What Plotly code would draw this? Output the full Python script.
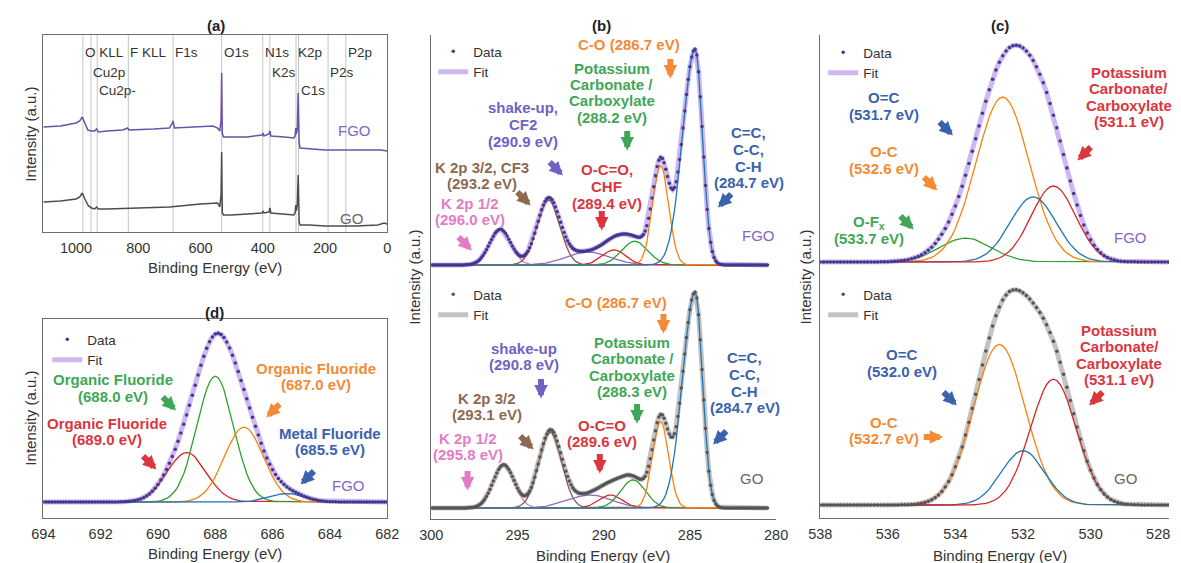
import numpy as np
import plotly.graph_objects as go

W, H = 1181, 563
FONT = "Liberation Sans, Arial, sans-serif"

# ---------------- (a) survey spectra ----------------
survey_be_fgo = [1105, 1050, 1000, 988, 980, 976, 970, 962, 950, 940, 934, 928, 900, 850, 834, 830,
                 750, 700, 692, 688, 684, 620, 560, 545, 538, 534, 532, 530, 526, 500, 450, 402,
                 399, 396, 380, 377, 374, 330, 300, 296, 294, 292, 289, 286, 285, 283, 280, 250,
                 200, 100, 20, 0]
survey_int_fgo = [105, 106, 109, 111, 115, 112, 107, 102, 101, 101, 103, 100, 101, 102, 104, 102,
                  103, 104, 108, 111, 104, 105, 106, 104, 101, 112, 159, 99, 95, 95, 95, 97,
                  99, 96, 98, 101, 96, 95, 94, 96, 104, 98, 102, 139, 122, 89, 84, 83,
                  82, 82, 82, 81]
survey_be_go = [1105, 1050, 1000, 988, 980, 976, 970, 960, 950, 940, 934, 928, 900, 800, 700, 600,
                545, 538, 534, 532, 530, 526, 500, 450, 402, 399, 396, 380, 377, 374, 330, 300,
                296, 294, 292, 289, 286, 285, 283, 280, 250, 200, 100, 30, 10, 0]
survey_int_go = [30, 31, 33, 35, 39, 36, 32, 26, 24, 23, 25, 23, 23, 24, 25, 28,
                 29, 25, 37, 80, 19, 17, 17, 18, 19, 21, 19, 20, 24, 19, 18, 17,
                 19, 27, 21, 27, 57, 42, 10, 7, 7, 6, 6, 7, 9, 8]
survey_lines_be = [978, 952, 932, 832, 688, 532, 400, 377, 293, 285, 190, 133]
survey_labels = ["O KLL", "Cu2p", "Cu2p-", "F KLL", "F1s", "O1s", "N1s", "K2s", "K2p", "C1s", "P2s", "P2p"]
survey_label_row = [0, 1, 2, 0, 0, 0, 0, 1, 0, 2, 1, 0]

# ---------------- (b) C1s ----------------
# order: K 2p 1/2, K 2p 3/2, shake-up, O-C=O, carbonate/carboxylate, C-O, C=C
c1s_colors = ["#e377c2", "#8c564b", "#9467bd", "#d62728", "#2ca02c", "#ff7f0e", "#1f77b4"]
c1s_fgo_center = [296.0, 293.2, 290.9, 289.4, 288.2, 286.7, 284.7]
c1s_fgo_height = [0.165, 0.30, 0.06, 0.07, 0.11, 0.46, 1.0]
c1s_fgo_fwhm = [1.45, 1.55, 3.0, 1.6, 1.8, 1.1, 1.0]
c1s_fgo_asym = [1.0, 1.0, 1.0, 1.0, 1.0, 1.0, 1.7]
c1s_go_center = [295.8, 293.1, 290.8, 289.6, 288.3, 286.7, 284.7]
c1s_go_height = [0.20, 0.35, 0.06, 0.06, 0.13, 0.40, 1.0]
c1s_go_fwhm = [1.45, 1.55, 3.0, 1.6, 1.7, 1.1, 1.0]
c1s_go_asym = [1.0, 1.0, 1.0, 1.0, 1.0, 1.0, 1.7]
c1s_fgo_offset = 1.125

# ---------------- (c) O1s ----------------
# order: O-Fx, O-C, O=C, carbonate/carboxylate
o1s_fgo_colors = ["#2ca02c", "#ff7f0e", "#1f77b4", "#d62728"]
o1s_fgo_center = [533.7, 532.6, 531.7, 531.1]
o1s_fgo_height = [0.11, 0.76, 0.30, 0.35]
o1s_fgo_fwhm = [1.8, 1.85, 1.6, 1.55]
o1s_fgo_asym = [1.0, 1.0, 1.0, 1.0]
o1s_go_colors = ["#ff7f0e", "#1f77b4", "#d62728"]
o1s_go_center = [532.7, 532.0, 531.1]
o1s_go_height = [0.74, 0.25, 0.58]
o1s_go_fwhm = [1.8, 1.5, 1.6]
o1s_go_asym = [1.0, 1.0, 1.0]
o1s_fgo_offset = 1.12

# ---------------- (d) F1s ----------------
# order: 689.0, 688.0, 687.0 organic fluoride, 685.5 metal fluoride
f1s_colors = ["#d62728", "#2ca02c", "#ff7f0e", "#1f77b4"]
f1s_center = [689.0, 688.0, 687.0, 685.5]
f1s_height = [0.29, 0.74, 0.44, 0.05]
f1s_fwhm = [1.6, 1.5, 1.6, 1.4]
f1s_asym = [1.0, 1.0, 1.0, 1.0]


def peak(x, c, h, w, a):
    # split Gaussian: width on the high binding-energy side is scaled by a
    wid = np.where(x > c, w * a, w)
    return h * np.exp(-4 * np.log(2) * (x - c) ** 2 / wid ** 2)


fig = go.Figure()
annotations = []
shapes = []


def P(xpx, ypx):
    return xpx / W, 1 - ypx / H


def text(s, cx, cy, color="#333", size=15, bold=False, xanchor="center", angle=0):
    x, y = P(cx, cy)
    annotations.append(dict(x=x, y=y, xref="paper", yref="paper",
                            text=f"<b>{s}</b>" if bold else s, showarrow=False,
                            font=dict(size=size, color=color, family=FONT),
                            xanchor=xanchor, yanchor="middle", textangle=angle))


def label(lines, cx, cy, color, size=15, spacing=16.5):
    for i, t in enumerate(lines):
        text(t, cx, cy + i * spacing, color=color, size=size, bold=True)


DIRS = {"down": (0, 1), "dr": (0.707, 0.707), "dl": (-0.707, 0.707), "right": (1, 0)}


def arrow(cx, cy, d, color, length=21):
    ux, uy = DIRS[d]
    x, y = P(cx + ux * length / 2, cy + uy * length / 2)
    annotations.append(dict(x=x, y=y, xref="paper", yref="paper", text="", showarrow=True,
                            ax=-ux * length, ay=-uy * length, axref="pixel", ayref="pixel",
                            arrowhead=2, arrowsize=0.45, arrowwidth=6, arrowcolor=color))


def spectrum(xs, centers, heights, widths, asyms, colors, offset, xa, ya,
             data_color, fit_color, legend):
    comps = [peak(xs, c, h, w, a) for c, h, w, a in zip(centers, heights, widths, asyms)]
    total = offset + sum(comps)
    fig.add_trace(go.Scatter(x=xs, y=total, mode="lines", name="Fit", xaxis=xa, yaxis=ya,
                             line=dict(color=fit_color, width=5), legend=legend, legendrank=2))
    for comp, col in zip(comps, colors):
        fig.add_trace(go.Scatter(x=xs, y=offset + comp, mode="lines", xaxis=xa, yaxis=ya,
                                 showlegend=False, line=dict(color=col, width=1.3)))
    fig.add_trace(go.Scatter(x=xs, y=total, mode="markers", name="Data", xaxis=xa, yaxis=ya,
                             marker=dict(color=data_color, size=3.5), legend=legend, legendrank=1))


FGO_DATA, FGO_FIT = "#43388f", "rgba(190,160,235,0.75)"
GO_DATA, GO_FIT = "#555555", "rgba(175,175,175,0.75)"

# (a) survey
fig.add_trace(go.Scatter(x=survey_be_fgo, y=survey_int_fgo, mode="lines", xaxis="x", yaxis="y",
                         showlegend=False, line=dict(color="#6a52a8", width=1.5)))
fig.add_trace(go.Scatter(x=survey_be_go, y=survey_int_go, mode="lines", xaxis="x", yaxis="y",
                         showlegend=False, line=dict(color="#4d4d4d", width=1.5)))
row_y = [52, 72, 90]
for be, lab, row in zip(survey_lines_be, survey_labels, survey_label_row):
    shapes.append(dict(type="line", xref="x", yref="y domain", x0=be, x1=be, y0=0, y1=1,
                       line=dict(color="#c4c4c4", width=1), layer="below"))
    annotations.append(dict(x=be, y=1 - row_y[row] / H, xref="x", yref="paper", text=lab,
                            showarrow=False, xanchor="left", yanchor="middle", xshift=0,
                            font=dict(size=13.5, color="#333", family=FONT)))

# (d) F1s
xd = np.arange(682.0, 694.01, 0.1)
spectrum(xd, f1s_center, f1s_height, f1s_fwhm, f1s_asym, f1s_colors, 0.0, "x2", "y2",
         FGO_DATA, FGO_FIT, "legend5")

# (b) C1s
xb = np.arange(280.5, 300.01, 0.1)
spectrum(xb, c1s_go_center, c1s_go_height, c1s_go_fwhm, c1s_go_asym, c1s_colors, 0.0, "x3", "y3",
         GO_DATA, GO_FIT, "legend2")
spectrum(xb, c1s_fgo_center, c1s_fgo_height, c1s_fgo_fwhm, c1s_fgo_asym, c1s_colors,
         c1s_fgo_offset, "x3", "y3", FGO_DATA, FGO_FIT, "legend")

# (c) O1s
xc = np.arange(527.7, 538.01, 0.1)
spectrum(xc, o1s_go_center, o1s_go_height, o1s_go_fwhm, o1s_go_asym, o1s_go_colors, 0.0, "x4", "y4",
         GO_DATA, GO_FIT, "legend4")
spectrum(xc, o1s_fgo_center, o1s_fgo_height, o1s_fgo_fwhm, o1s_fgo_asym, o1s_fgo_colors,
         o1s_fgo_offset, "x4", "y4", FGO_DATA, FGO_FIT, "legend3")

# ---- titles and axis titles
for s, cx, cy in [("(a)", 208, 25), ("(b)", 602, 25), ("(c)", 1008, 25), ("(d)", 207, 312)]:
    text(s, cx, cy, color="#222", size=15, bold=True)
for cx, cy in [(207, 267), (207, 553), (603, 555), (1008, 555)]:
    text("Binding Energy (eV)", cx, cy, color="#333", size=15)
for cx, cy in [(18, 134), (18, 418), (411, 277), (810, 277)]:
    text("Intensity (a.u.)", cx, cy, color="#333", size=15, angle=-90)

PURPLE, GRAY = "#8466c2", "#666666"
text("FGO", 350, 130, PURPLE, 15)
text("GO", 347, 218, GRAY, 15)
text("FGO", 762, 235, PURPLE, 15)
text("GO", 755, 478, GRAY, 15)
text("FGO", 1142, 237, PURPLE, 15)
text("GO", 1137, 478, GRAY, 15)
text("FGO", 343, 485, PURPLE, 15)

C_PINK, C_BROWN, C_PURPLE = "#e27cc6", "#8c6a52", "#6f62c4"
C_RED, C_GREEN, C_ORANGE, C_BLUE = "#d9363e", "#3fa757", "#f28a36", "#3a62ad"

# (b) FGO labels
label(["C-O (286.7 eV)"], 630, 45, C_ORANGE)
arrow(672, 68, "down", C_ORANGE)
label(["Potassium", "Carbonate /", "Carboxylate", "(288.2 eV)"], 612, 68, C_GREEN)
arrow(628, 140, "down", C_GREEN)
label(["shake-up,", "CF2", "(290.9 eV)"], 522, 108, C_PURPLE)
arrow(555, 168, "dr", C_PURPLE)
label(["K 2p 3/2, CF3", "(293.2 eV)"], 480, 167, C_BROWN)
arrow(522, 198, "dr", C_BROWN)
label(["K 2p 1/2", "(296.0 eV)"], 468, 203, C_PINK)
arrow(462, 243, "dr", C_PINK)
label(["O-C=O,", "CHF", "(289.4 eV)"], 607, 170, C_RED)
arrow(602, 220, "down", C_RED)
label(["C=C,", "C-C,", "C-H", "(284.7 eV)"], 752, 133, C_BLUE)
arrow(728, 200, "dl", C_BLUE)

# (b) GO labels
label(["C-O (286.7 eV)"], 617, 302, C_ORANGE)
arrow(665, 323, "down", C_ORANGE)
label(["Potassium", "Carbonate /", "Carboxylate", "(288.3 eV)"], 633, 342, C_GREEN)
arrow(638, 413, "down", C_GREEN)
label(["shake-up", "(290.8 eV)"], 523, 348, C_PURPLE)
arrow(540, 388, "down", C_PURPLE)
label(["K 2p 3/2", "(293.1 eV)"], 485, 398, C_BROWN)
arrow(525, 442, "dr", C_BROWN)
label(["K 2p 1/2", "(295.8 eV)"], 465, 438, C_PINK)
arrow(465, 480, "down", C_PINK)
label(["O-C=O", "(289.6 eV)"], 602, 425, C_RED)
arrow(600, 463, "down", C_RED)
label(["C=C,", "C-C,", "C-H", "(284.7 eV)"], 748, 358, C_BLUE)
arrow(723, 437, "dl", C_BLUE)

# (c) FGO labels
label(["O=C", "(531.7 eV)"], 890, 98, C_BLUE)
arrow(953, 128, "dr", C_BLUE)
label(["O-C", "(532.6 eV)"], 890, 152, C_ORANGE)
arrow(937, 183, "dr", C_ORANGE)
label(["O-F<sub>x</sub>", "(533.7 eV)"], 875, 222, C_GREEN)
arrow(913, 222, "dr", C_GREEN)
label(["Potassium", "Carbonate/", "Carboxylate", "(531.1 eV)"], 1140, 72, C_RED)
arrow(1095, 153, "dl", C_RED)

# (c) GO labels
label(["O=C", "(532.0 eV)"], 908, 355, C_BLUE)
arrow(957, 398, "dr", C_BLUE)
label(["O-C", "(532.7 eV)"], 890, 422, C_ORANGE)
arrow(940, 437, "right", C_ORANGE)
label(["Potassium", "Carbonate/", "Carboxylate", "(531.1 eV)"], 1130, 330, C_RED)
arrow(1107, 398, "dl", C_RED)

# (d) labels
label(["Organic Fluoride", "(688.0 eV)"], 103, 380, C_GREEN)
arrow(160, 403, "dr", C_GREEN)
label(["Organic Fluoride", "(689.0 eV)"], 97, 423, C_RED)
arrow(140, 462, "dr", C_RED)
label(["Organic Fluoride", "(687.0 eV)"], 310, 368, C_ORANGE)
arrow(267, 410, "dl", C_ORANGE)
label(["Metal Fluoride", "(685.5 eV)"], 325, 433, C_BLUE)
arrow(302, 477, "dl", C_BLUE)

# ---- axes
AX = dict(showgrid=False, zeroline=False, linecolor="#6e6e6e", linewidth=1.2, ticks="outside",
          ticklen=2, tickcolor="rgba(0,0,0,0)", tickfont=dict(size=14.5, color="#333", family=FONT))
AY = dict(showgrid=False, zeroline=False, linecolor="#6e6e6e", linewidth=1.2, showticklabels=False,
          ticks="")


def legend_box(xpx, ypx):
    x, y = P(xpx, ypx)
    return dict(x=x, y=y, xanchor="left", yanchor="top", bgcolor="rgba(0,0,0,0)",
                font=dict(size=13.5, color="#333", family=FONT), tracegroupgap=0,
                itemwidth=30, borderwidth=0)


fig.update_layout(
    width=W, height=H, margin=dict(l=0, r=0, t=0, b=0),
    paper_bgcolor="white", plot_bgcolor="white",
    font=dict(family=FONT, color="#333"),
    xaxis=dict(AX, domain=[32 / W, 383 / W], range=[1105, 0], anchor="y",
               tickvals=[1000, 800, 600, 400, 200, 0], showline=True, mirror=True),
    yaxis=dict(AY, domain=[1 - 232 / H, 1 - 35 / H], range=[0, 197], anchor="x",
               showline=True, mirror=True),
    xaxis2=dict(AX, domain=[32 / W, 383 / W], range=[694, 682], anchor="y2",
                tickvals=[694, 692, 690, 688, 686, 684, 682], showline=True, mirror=True),
    yaxis2=dict(AY, domain=[1 - 518 / H, 1 - 319 / H], range=[-0.094, 1.076], anchor="x2",
                showline=True, mirror=True),
    xaxis3=dict(AX, domain=[428 / W, 780 / W], range=[300, 280], anchor="y3",
                tickvals=[300, 295, 290, 285, 280], showline=True),
    yaxis3=dict(AY, domain=[1 - 519 / H, 1 - 35 / H], range=[-0.051, 2.19], anchor="x3",
                showline=True),
    xaxis4=dict(AX, domain=[825 / W, 1.0], range=[538, 527.68], anchor="y4",
                tickvals=[538, 536, 534, 532, 530, 528], showline=True),
    yaxis4=dict(AY, domain=[1 - 518 / H, 1 - 35 / H], range=[-0.06, 2.166], anchor="x4",
                showline=True),
    legend=legend_box(430, 36),
    legend2=legend_box(430, 279),
    legend3=legend_box(828, 37),
    legend4=legend_box(828, 279),
    legend5=legend_box(36, 324),
    annotations=annotations,
    shapes=shapes,
)

fig.write_html("out.html")
